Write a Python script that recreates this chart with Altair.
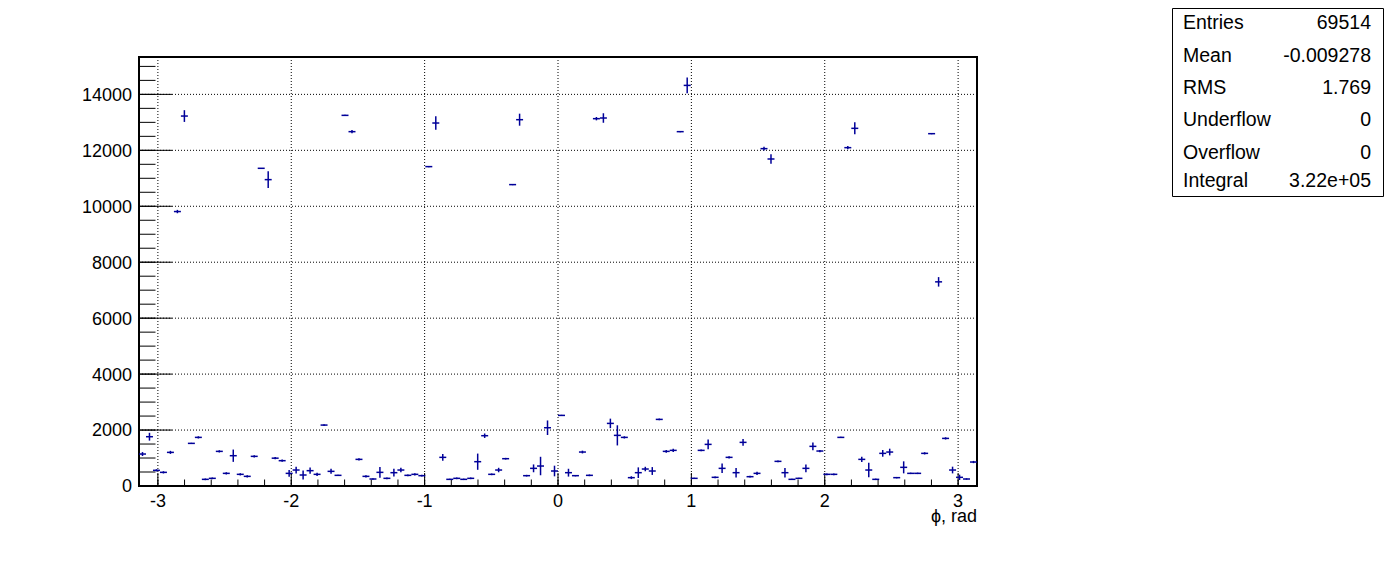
import math
import altair as alt
import pandas as pd

# ---------------- data ----------------
n_bins = 120
x_min, x_max = -math.pi, math.pi

counts = [
    1143, 1762, 560, 488, 1202, 9811, 13225, 1524, 1738, 238,
    274, 1238, 452, 1083, 417, 345, 1060, 11357, 10952, 995,
    905, 452, 571, 393, 548, 417, 2178, 524, 381, 13250,
    12667, 952, 345, 250, 488, 274, 476, 571, 381, 417,
    369, 11417, 12976, 1024, 238, 274, 238, 274, 869, 1798,
    417, 571, 976, 10774, 13095, 369, 631, 714, 2083, 536,
    2524, 476, 369, 1214, 381, 13131, 13155, 2238, 1810, 1738,
    298, 476, 607, 536, 2381, 1238, 1274, 12667, 14321, 274,
    1274, 1488, 310, 631, 1024, 476, 1560, 333, 452, 12060,
    11690, 881, 476, 238, 274, 631, 1417, 1250, 417, 417,
    1738, 12095, 12786, 952, 571, 238, 1167, 1214, 298, 667,
    452, 452, 1167, 12595, 7298, 1702, 571, 310, 250, 857,
]
errors = [
    70, 140, 40, 40, 55, 60, 210, 20, 40, 30,
    30, 40, 40, 220, 40, 40, 40, 15, 300, 40,
    40, 120, 120, 165, 110, 60, 30, 90, 25, 20,
    60, 40, 40, 25, 190, 30, 140, 80, 30, 40,
    30, 25, 240, 120, 25, 30, 25, 30, 290, 80,
    30, 80, 30, 20, 215, 30, 140, 330, 260, 190,
    20, 140, 25, 50, 30, 60, 170, 170, 360, 40,
    50, 190, 80, 140, 30, 50, 60, 20, 285, 25,
    30, 170, 30, 170, 40, 170, 120, 30, 60, 70,
    170, 30, 170, 25, 25, 140, 140, 40, 30, 30,
    25, 60, 215, 95, 260, 25, 120, 120, 25, 215,
    25, 25, 40, 20, 170, 40, 120, 95, 25, 40,
]

x_major = [-3, -2, -1, 0, 1, 2, 3]
x_labels = ["-3", "-2", "-1", "0", "1", "2", "3"]
x_minor = [-3.0, -2.8, -2.6, -2.4, -2.2, -2.0, -1.8, -1.6, -1.4, -1.2, -1.0,
           -0.8, -0.6, -0.4, -0.2, 0.0, 0.2, 0.4, 0.6, 0.8, 1.0,
           1.2, 1.4, 1.6, 1.8, 2.0, 2.2, 2.4, 2.6, 2.8, 3.0]
y_major = [0, 2000, 4000, 6000, 8000, 10000, 12000, 14000]
y_labels = ["0", "2000", "4000", "6000", "8000", "10000", "12000", "14000"]
y_minor = [0, 500, 1000, 1500, 2000, 2500, 3000, 3500, 4000, 4500, 5000,
           5500, 6000, 6500, 7000, 7500, 8000, 8500, 9000, 9500, 10000,
           10500, 11000, 11500, 12000, 12500, 13000, 13500, 14000, 14500, 15000]
y_max = 15336

stats_names = ["Entries", "Mean", "RMS", "Underflow", "Overflow", "Integral"]
stats_values = ["69514", "-0.009278", "1.769", "0", "0", "3.22e+05"]
x_title = "ϕ, rad"

# ---------------- layout / style ----------------
W, H = 838, 429
FONT = "Liberation Sans"
COLOR = "#000099"

bw = (x_max - x_min) / n_bins
df = pd.DataFrame({
    "lo": [x_min + i * bw for i in range(n_bins)],
    "hi": [x_min + (i + 1) * bw for i in range(n_bins)],
    "xc": [x_min + (i + 0.5) * bw for i in range(n_bins)],
    "count": counts,
    "err": errors,
})
df["ylo"] = df["count"] - df["err"]
df["yhi"] = df["count"] + df["err"]

xs = alt.Scale(domain=[x_min, x_max], nice=False, zero=False)
ys = alt.Scale(domain=[0, y_max], nice=False, zero=False)

grid_x = alt.Chart(pd.DataFrame({"v": x_major})).mark_rule(
    color="black", strokeDash=[1, 2], strokeWidth=1
).encode(x=alt.X("v:Q", scale=xs, axis=None))

grid_y = alt.Chart(pd.DataFrame({"v": y_major})).mark_rule(
    color="black", strokeDash=[1, 2], strokeWidth=1
).encode(y=alt.Y("v:Q", scale=ys, axis=None))

tick_x_minor = alt.Chart(pd.DataFrame({"v": x_minor})).mark_rule(
    color="black", strokeWidth=1
).encode(x=alt.X("v:Q", scale=xs, axis=None), y=alt.value(H), y2=alt.value(H - 6.5))
tick_x_major = alt.Chart(pd.DataFrame({"v": x_major})).mark_rule(
    color="black", strokeWidth=1
).encode(x=alt.X("v:Q", scale=xs, axis=None), y=alt.value(H), y2=alt.value(H - 13))
tick_y_minor = alt.Chart(pd.DataFrame({"v": y_minor})).mark_rule(
    color="black", strokeWidth=1
).encode(y=alt.Y("v:Q", scale=ys, axis=None), x=alt.value(0), x2=alt.value(16.5))
tick_y_major = alt.Chart(pd.DataFrame({"v": y_major})).mark_rule(
    color="black", strokeWidth=1
).encode(y=alt.Y("v:Q", scale=ys, axis=None), x=alt.value(0), x2=alt.value(33))

xlab = alt.Chart(pd.DataFrame({"v": x_major, "t": x_labels})).mark_text(
    font=FONT, fontSize=18, color="black", align="center", baseline="alphabetic"
).encode(x=alt.X("v:Q", scale=xs, axis=None), y=alt.value(H + 21), text="t:N")

ylab = alt.Chart(pd.DataFrame({"v": y_major, "t": y_labels})).mark_text(
    font=FONT, fontSize=18, color="black", align="right", baseline="alphabetic", dy=6.4
).encode(y=alt.Y("v:Q", scale=ys, axis=None), x=alt.value(-7), text="t:N")

xtitle = alt.Chart(pd.DataFrame({"t": [x_title]})).mark_text(
    font=FONT, fontSize=18, color="black", align="right", baseline="alphabetic"
).encode(x=alt.value(W), y=alt.value(H + 36), text="t:N")

errbar = alt.Chart(df).mark_rule(color=COLOR, strokeWidth=1.5).encode(
    x=alt.X("xc:Q", scale=xs, axis=None),
    y=alt.Y("ylo:Q", scale=ys, axis=None),
    y2="yhi:Q",
)
hbar = alt.Chart(df).mark_rule(color=COLOR, strokeWidth=1.5).encode(
    x=alt.X("lo:Q", scale=xs, axis=None),
    x2="hi:Q",
    y=alt.Y("count:Q", scale=ys, axis=None),
)

box = alt.Chart(pd.DataFrame({"a": [0]})).mark_rect(
    fill="white", stroke="black", strokeWidth=1
).encode(x=alt.value(1033.5), x2=alt.value(1244.5), y=alt.value(-48.5), y2=alt.value(139.5))

row_y = [-27.7, 4.7, 37.0, 69.0, 102.0, 130.3]
text_layers = []
for name, val, ry in zip(stats_names, stats_values, row_y):
    text_layers.append(
        alt.Chart(pd.DataFrame({"a": [0]})).mark_text(
            font=FONT, fontSize=19.5, color="black", align="left", baseline="alphabetic"
        ).encode(x=alt.value(1044), y=alt.value(ry), text=alt.value(name))
    )
    text_layers.append(
        alt.Chart(pd.DataFrame({"a": [0]})).mark_text(
            font=FONT, fontSize=19.5, color="black", align="right", baseline="alphabetic"
        ).encode(x=alt.value(1232), y=alt.value(ry), text=alt.value(val))
    )

chart = alt.layer(
    grid_x, grid_y, tick_x_minor, tick_x_major, tick_y_minor, tick_y_major,
    errbar, hbar, xlab, ylab, xtitle, box, *text_layers,
).properties(
    width=W, height=H,
    autosize=alt.AutoSizeParams(type="none"),
    padding={"left": 131, "top": 49, "right": 408, "bottom": 60},
    background="white",
).configure_view(stroke="black", strokeWidth=2)

chart.save("out.html", embed_options={"renderer": "svg", "actions": False})
